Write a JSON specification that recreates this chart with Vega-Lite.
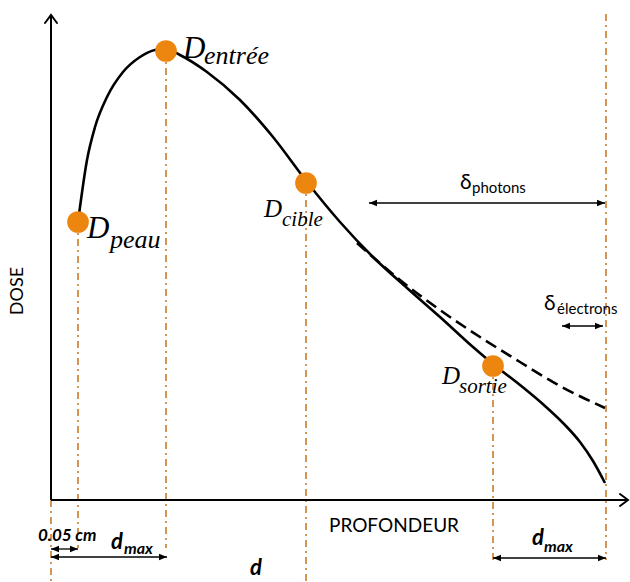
{
  "$schema": "https://vega.github.io/schema/vega-lite/v6.json",
  "width": 630,
  "height": 582,
  "padding": 0,
  "autosize": {"type": "none"},
  "background": "white",
  "config": {"view": {"stroke": null}},
  "encoding": {
    "x": {"field": "x", "type": "quantitative", "axis": null, "scale": {"domain": [-51, 579], "nice": false, "zero": false}},
    "y": {"field": "y", "type": "quantitative", "axis": null, "scale": {"domain": [-82, 500], "nice": false, "zero": false}}
  },
  "layer": [
    {
      "data": {"values": [
        {"x": 0, "y": 0, "y2": -82},
        {"x": 27, "y": 278, "y2": -48},
        {"x": 115, "y": 449, "y2": -48},
        {"x": 255, "y": 317, "y2": -82},
        {"x": 442, "y": 134, "y2": -62},
        {"x": 555, "y": 486, "y2": -60}
      ]},
      "mark": {"type": "rule", "color": "#C8731E", "strokeWidth": 1.5, "strokeDash": [7, 4, 2, 4]},
      "encoding": {"y2": {"field": "y2"}}
    },
    {
      "data": {"values": [
        {"x": 0, "y": 0, "x2": 577, "y2": 0},
        {"x": 0, "y": 0, "x2": 0, "y2": 485}
      ]},
      "mark": {"type": "rule", "color": "black", "strokeWidth": 2},
      "encoding": {"x2": {"field": "x2"}, "y2": {"field": "y2"}}
    },
    {
      "data": {"values": [
        {"g": "top", "o": 1, "x": -6, "y": 477},
        {"g": "top", "o": 2, "x": 0, "y": 485},
        {"g": "top", "o": 3, "x": 6, "y": 477},
        {"g": "right", "o": 1, "x": 569, "y": 6},
        {"g": "right", "o": 2, "x": 577, "y": 0},
        {"g": "right", "o": 3, "x": 569, "y": -6}
      ]},
      "mark": {"type": "line", "color": "black", "strokeWidth": 2, "strokeCap": "round", "strokeJoin": "miter"},
      "encoding": {"detail": {"field": "g"}, "order": {"field": "o"}}
    },
    {
      "data": {"values": [
        {"x": 27, "y": 278},
        {"x": 29, "y": 293},
        {"x": 36, "y": 340},
        {"x": 44, "y": 373},
        {"x": 56, "y": 403},
        {"x": 72, "y": 428},
        {"x": 89, "y": 443},
        {"x": 104, "y": 450},
        {"x": 115, "y": 451},
        {"x": 129, "y": 445},
        {"x": 156, "y": 428},
        {"x": 189, "y": 400},
        {"x": 222, "y": 363},
        {"x": 256, "y": 318},
        {"x": 289, "y": 278},
        {"x": 322, "y": 243},
        {"x": 356, "y": 212},
        {"x": 389, "y": 183},
        {"x": 422, "y": 153},
        {"x": 442, "y": 136},
        {"x": 469, "y": 115},
        {"x": 494, "y": 94},
        {"x": 514, "y": 75},
        {"x": 529, "y": 58},
        {"x": 542, "y": 39},
        {"x": 554, "y": 17}
      ]},
      "mark": {"type": "line", "color": "black", "strokeWidth": 2.6, "interpolate": "monotone"}
    },
    {
      "data": {"values": [
        {"x": 306, "y": 257},
        {"x": 349, "y": 220},
        {"x": 389, "y": 190},
        {"x": 429, "y": 163},
        {"x": 469, "y": 138},
        {"x": 509, "y": 114},
        {"x": 554, "y": 92}
      ]},
      "mark": {"type": "line", "color": "black", "strokeWidth": 2.6, "strokeDash": [12, 6], "interpolate": "monotone"}
    },
    {
      "data": {"values": [
        {"x": 27, "y": 278},
        {"x": 115, "y": 449},
        {"x": 255, "y": 317},
        {"x": 442, "y": 134}
      ]},
      "mark": {"type": "point", "filled": true, "color": "#EC860F", "opacity": 1, "size": 470}
    },
    {
      "data": {"values": [
        {"x": 0, "x2": 27, "y": -49},
        {"x": 0, "x2": 116, "y": -57},
        {"x": 0, "x2": 255, "y": -85},
        {"x": 442, "x2": 555, "y": -58},
        {"x": 318, "x2": 554, "y": 297},
        {"x": 511, "x2": 552, "y": 174}
      ]},
      "mark": {"type": "rule", "color": "black", "strokeWidth": 1.3},
      "encoding": {"x2": {"field": "x2"}}
    },
    {
      "data": {"values": [
        {"x": 0, "y": -49, "dir": "l"}, {"x": 27, "y": -49, "dir": "r"},
        {"x": 0, "y": -57, "dir": "l"}, {"x": 116, "y": -57, "dir": "r"},
        {"x": 0, "y": -85, "dir": "l"}, {"x": 255, "y": -85, "dir": "r"},
        {"x": 442, "y": -58, "dir": "l"}, {"x": 555, "y": -58, "dir": "r"},
        {"x": 318, "y": 297, "dir": "l"}, {"x": 554, "y": 297, "dir": "r"},
        {"x": 511, "y": 174, "dir": "l"}, {"x": 552, "y": 174, "dir": "r"}
      ]},
      "mark": {"type": "point", "filled": true, "color": "black", "opacity": 1, "size": 256, "strokeWidth": 0},
      "encoding": {
        "shape": {"field": "dir", "type": "nominal", "legend": null,
          "scale": {"domain": ["l", "r"], "range": ["M 1 -0.4 L 0 0 L 1 0.4 Z", "M -1 -0.4 L 0 0 L -1 0.4 Z"]}}
      }
    },
    {
      "data": {"values": [
        {"x": 36, "y": 262, "t": "D"},
        {"x": 132, "y": 442, "t": "D"}
      ]},
      "mark": {"type": "text", "font": "Liberation Serif", "fontStyle": "italic", "fontSize": 31, "align": "left", "baseline": "alphabetic", "color": "black"},
      "encoding": {"text": {"field": "t"}}
    },
    {
      "data": {"values": [
        {"x": 59, "y": 252, "t": "peau"},
        {"x": 153, "y": 436, "t": "entrée"}
      ]},
      "mark": {"type": "text", "font": "Liberation Serif", "fontStyle": "italic", "fontSize": 26, "align": "left", "baseline": "alphabetic", "color": "black"},
      "encoding": {"text": {"field": "t"}}
    },
    {
      "data": {"values": [
        {"x": 213, "y": 283, "t": "D"},
        {"x": 391, "y": 116, "t": "D"}
      ]},
      "mark": {"type": "text", "font": "Liberation Serif", "fontStyle": "italic", "fontSize": 25, "align": "left", "baseline": "alphabetic", "color": "black"},
      "encoding": {"text": {"field": "t"}}
    },
    {
      "data": {"values": [
        {"x": 231, "y": 274, "t": "cible"},
        {"x": 408, "y": 107, "t": "sortie"}
      ]},
      "mark": {"type": "text", "font": "Liberation Serif", "fontStyle": "italic", "fontSize": 21, "align": "left", "baseline": "alphabetic", "color": "black"},
      "encoding": {"text": {"field": "t"}}
    },
    {
      "data": {"values": [
        {"x": 409, "y": 311, "t": "δ"},
        {"x": 493, "y": 190, "t": "δ"}
      ]},
      "mark": {"type": "text", "font": "Lato", "fontSize": 21, "align": "left", "baseline": "alphabetic", "color": "black"},
      "encoding": {"text": {"field": "t"}}
    },
    {
      "data": {"values": [
        {"x": 421, "y": 307, "t": "photons"},
        {"x": 506, "y": 186, "t": "électrons"}
      ]},
      "mark": {"type": "text", "font": "Lato", "fontSize": 15, "align": "left", "baseline": "alphabetic", "color": "black"},
      "encoding": {"text": {"field": "t"}}
    },
    {
      "data": {"values": [{"x": -33, "y": 209, "t": "DOSE"}]},
      "mark": {"type": "text", "font": "Lato", "fontSize": 18, "angle": 270, "align": "center", "baseline": "middle", "color": "black"},
      "encoding": {"text": {"field": "t"}}
    },
    {
      "data": {"values": [{"x": 343, "y": -32, "t": "PROFONDEUR"}]},
      "mark": {"type": "text", "font": "Lato", "fontSize": 19, "align": "center", "baseline": "alphabetic", "color": "black"},
      "encoding": {"text": {"field": "t"}}
    },
    {
      "data": {"values": [{"x": -13, "y": -41, "t": "0.05 cm"}]},
      "mark": {"type": "text", "font": "Lato", "fontSize": 17, "fontWeight": "bold", "fontStyle": "italic", "align": "left", "baseline": "alphabetic", "color": "black"},
      "encoding": {"text": {"field": "t"}}
    },
    {
      "data": {"values": [
        {"x": 60, "y": -49, "t": "d"},
        {"x": 481, "y": -45, "t": "d"},
        {"x": 199, "y": -75, "t": "d"}
      ]},
      "mark": {"type": "text", "font": "Lato", "fontSize": 22, "fontWeight": "bold", "fontStyle": "italic", "align": "left", "baseline": "alphabetic", "color": "black"},
      "encoding": {"text": {"field": "t"}}
    },
    {
      "data": {"values": [
        {"x": 73, "y": -54, "t": "max"},
        {"x": 493, "y": -52, "t": "max"}
      ]},
      "mark": {"type": "text", "font": "Lato", "fontSize": 16, "fontWeight": "bold", "fontStyle": "italic", "align": "left", "baseline": "alphabetic", "color": "black"},
      "encoding": {"text": {"field": "t"}}
    }
  ]
}
